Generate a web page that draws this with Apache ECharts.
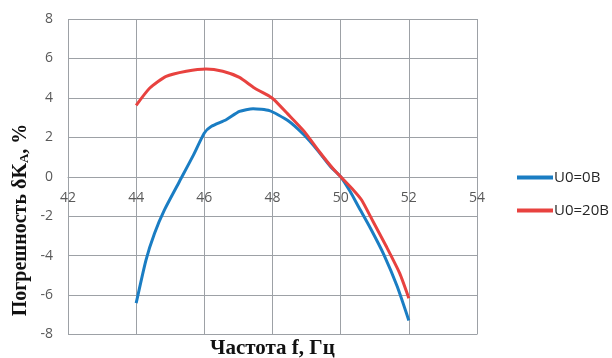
<!DOCTYPE html>
<html><head><meta charset="utf-8">
<script src="https://cdn.jsdelivr.net/npm/echarts@6/dist/echarts.min.js"></script>
<style>html,body{margin:0;padding:0;background:#fff}#c{width:612px;height:358px}</style>
</head><body><div id="c"></div>
<script>
const xTicks = [42, 44, 46, 48, 50, 52, 54];
const yTicks = [-8, -6, -4, -2, 0, 2, 4, 6, 8];
const freqBlue = [44, 44.29, 44.54, 44.83, 45.27, 45.66, 46, 46.2, 46.64, 47.03, 47.43, 47.91, 48.45, 48.92, 49.31, 49.7, 50, 50.28, 50.52, 50.87, 51.27, 51.66, 52];
const valBlue  = [-6.41, -4.21, -2.86, -1.68, -0.24, 1.03, 2.22, 2.55, 2.89, 3.31, 3.45, 3.35, 2.85, 2.13, 1.37, 0.52, 0, -0.75, -1.51, -2.6, -3.96, -5.57, -7.29];
const freqRed = [44, 44.4, 44.88, 45.47, 46.05, 46.54, 47.03, 47.47, 47.91, 48.05, 48.44, 48.93, 49.37, 49.76, 50, 50.37, 50.61, 50.95, 51.34, 51.73, 52];
const valRed  = [3.62, 4.5, 5.09, 5.35, 5.47, 5.35, 5.04, 4.5, 4.08, 3.9, 3.2, 2.3, 1.28, 0.44, 0, -0.67, -1.17, -2.27, -3.54, -4.89, -6.16];
const seriesNames = ['U0=0В', 'U0=20В'];
const yName = ['Погрешность δK', 'А', ', %'];
const xName = 'Частота f, Гц';

const chart = echarts.init(document.getElementById('c'));
const pair = (xs, ys) => xs.map((x, i) => [x, ys[i]]);
const gridCol = '#9da1a6';
const gridH = 358 - 19 - 23.5;
chart.setOption({
  animation: false,
  backgroundColor: '#fff',
  grid: { left: 68, right: 135, top: 19, bottom: 23.5 },
  xAxis: {
    type: 'value', min: xTicks[0], max: xTicks[xTicks.length - 1], interval: 2,
    offset: -gridH / 2,
    axisLine: { show: true, onZero: false, lineStyle: { color: gridCol, width: 1 } },
    axisTick: { show: false },
    axisLabel: { color: '#595959', fontSize: 14, fontFamily: 'Open Sans', margin: 14 },
    splitLine: { show: true, lineStyle: { color: gridCol, width: 1, type: 'solid' } }
  },
  yAxis: {
    type: 'value', min: yTicks[0], max: yTicks[yTicks.length - 1], interval: 2,
    axisLine: { show: false, onZero: false }, axisTick: { show: false },
    axisLabel: { color: '#595959', fontSize: 14, fontFamily: 'Open Sans', margin: 15 },
    splitLine: { show: true, lineStyle: { color: gridCol, width: 1, type: 'solid' } }
  },
  graphic: [{
    type: 'text', x: 21, y: 220, rotation: Math.PI / 2,
    style: {
      text: '{a|' + yName[0] + '}{s|' + yName[1] + '}{a|' + yName[2] + '}',
      align: 'center', verticalAlign: 'middle',
      rich: {
        a: { fontFamily: 'Liberation Serif', fontWeight: 'bold', fontSize: 20, fill: '#111' },
        s: { fontFamily: 'Liberation Serif', fontWeight: 'bold', fontSize: 13, fill: '#111', verticalAlign: 'bottom' }
      }
    }
  }, {
    type: 'text', left: 210, top: 338,
    style: { text: xName, font: 'bold 21px "Liberation Serif"', fill: '#111' }
  }],
  legend: {
    orient: 'vertical', left: 512, top: 165, itemGap: 18,
    itemWidth: 36, itemHeight: 4, icon: 'rect',
    textStyle: { fontFamily: 'Open Sans', fontSize: 15, color: '#262626', padding: [0, 0, 0, -4] },
    data: seriesNames
  },
  series: [
    { name: seriesNames[0], type: 'line', data: pair(freqBlue, valBlue), smooth: 0.2,
      showSymbol: false, lineStyle: { color: '#1a7dc3', width: 3 }, itemStyle: { color: '#1a7dc3' } },
    { name: seriesNames[1], type: 'line', data: pair(freqRed, valRed), smooth: 0.2,
      showSymbol: false, lineStyle: { color: '#e8423f', width: 3 }, itemStyle: { color: '#e8423f' } }
  ]
});
</script></body></html>
